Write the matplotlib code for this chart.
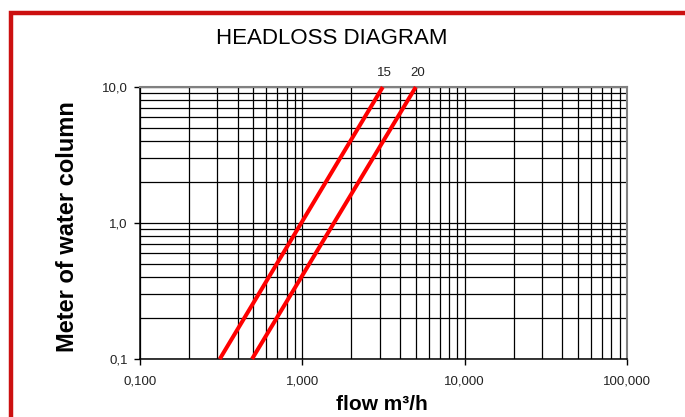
import matplotlib
matplotlib.use("Agg")
import matplotlib.pyplot as plt
from matplotlib.patches import Rectangle
from matplotlib.ticker import FixedLocator, NullFormatter, NullLocator

plt.rcParams['font.family'] = ['Liberation Sans', 'DejaVu Sans']

# Kurven (Durchfluss m3/h -> Druckverlust mWS), Endpunkte
labels = ["15", "20"]
flow_15 = [0.31, 3.13]
head_15 = [0.1, 10.0]
flow_20 = [0.49, 5.0]
head_20 = [0.1, 10.0]

x_ticks = [0.1, 1, 10, 100]
x_ticklabels = ["0,100", "1,000", "10,000", "100,000"]
y_ticks = [0.1, 1, 10]
y_ticklabels = ["0,1", "1,0", "10,0"]

W, H = 685, 417
fig = plt.figure(figsize=(W / 100, H / 100), dpi=100)
fig.patch.set_facecolor("white")

# Achsenbereich in Pixel
left, right, top, bottom = 140, 627, 87, 359
ax = fig.add_axes([left / W, 1 - bottom / H, (right - left) / W, (bottom - top) / H])

ax.set_xscale("log")
ax.set_yscale("log")
ax.set_xlim(0.1, 100)
ax.set_ylim(0.1, 10)

# Gitter: alle Dekaden-Unterteilungen
minors_x = [m * 10.0 ** d for d in range(-1, 2) for m in range(2, 10)]
minors_y = [m * 10.0 ** d for d in range(-1, 1) for m in range(2, 10)]
for v in x_ticks + minors_x:
    ax.axvline(v, color="black", lw=0.9, zorder=1)
for v in y_ticks + minors_y:
    ax.axhline(v, color="black", lw=0.9, zorder=1)

for fl, hd, lab in [(flow_15, head_15, labels[0]), (flow_20, head_20, labels[1])]:
    ax.plot(fl, hd, color="#ff0000", lw=2.9, solid_capstyle="butt", zorder=3, clip_on=False)
    ax.annotate(lab, (fl[-1], hd[-1]), xytext=(1, 6), textcoords="offset points",
                ha="center", va="bottom", fontsize=9.5, color="#222222")

ax.xaxis.set_major_locator(FixedLocator(x_ticks))
ax.yaxis.set_major_locator(FixedLocator(y_ticks))
ax.xaxis.set_minor_locator(NullLocator())
ax.yaxis.set_minor_locator(NullLocator())
ax.xaxis.set_minor_formatter(NullFormatter())
ax.yaxis.set_minor_formatter(NullFormatter())
ax.set_xticklabels(x_ticklabels, fontsize=9.5, color="#222222")
ax.set_yticklabels(y_ticklabels, fontsize=9.5, color="#222222")
ax.tick_params(direction="out", length=4, width=1, colors="black", pad=6)
ax.tick_params(axis="x", labelcolor="#222222", pad=8)
ax.tick_params(axis="y", labelcolor="#222222", pad=5)

for s in ["left", "bottom"]:
    ax.spines[s].set_color("black")
    ax.spines[s].set_linewidth(1.1)
for s in ["top", "right"]:
    ax.spines[s].set_color("#808080")
    ax.spines[s].set_linewidth(1.5)

fig.text(332 / W, 1 - 38 / H, "HEADLOSS DIAGRAM", ha="center", va="center", fontsize=16)
fig.text(67 / W, 1 - 227 / H, "Meter of water column", rotation=90, ha="center",
         va="center", fontsize=17, fontweight="bold")
fig.text(382 / W, 1 - 405 / H, "flow m³/h", ha="center", va="center",
         fontsize=15, fontweight="bold")

# roter Rahmen (rechts und unten abgeschnitten)
fig.patches.append(Rectangle((11 / W, -0.2), 1.5, 1.2 - 12.5 / H, transform=fig.transFigure,
                             fill=False, edgecolor="#cc1010", lw=3.2, figure=fig))

fig.savefig("out.png", dpi=100, facecolor="white")
